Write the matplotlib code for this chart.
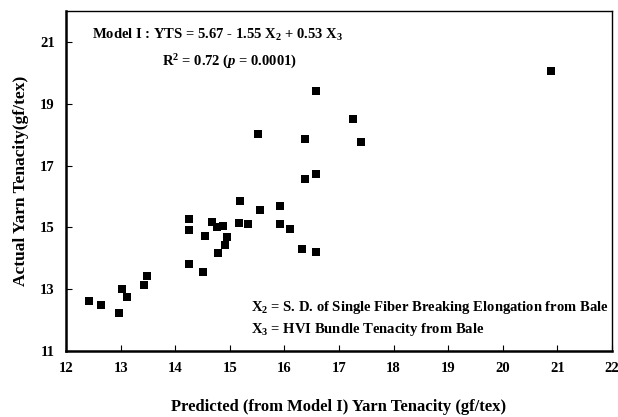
import matplotlib
matplotlib.use('Agg')
import matplotlib.pyplot as plt

# --- data ---
predicted = [20.88, 16.58, 17.25, 17.40, 16.38, 16.38, 16.58, 15.51, 15.19, 15.55,
             15.92, 14.25, 14.26, 14.67, 14.77, 14.88, 15.17, 15.33, 15.92, 16.10,
             14.54, 14.95, 14.92, 14.78, 16.32, 16.58, 14.25, 14.50, 13.48, 13.43,
             13.03, 13.12, 12.43, 12.65, 12.97]
actual = [20.06, 19.41, 18.50, 17.77, 17.85, 16.57, 16.73, 18.01, 15.84, 15.55,
          15.69, 15.28, 14.90, 15.17, 15.01, 15.05, 15.13, 15.11, 15.11, 14.94,
          14.72, 14.70, 14.43, 14.17, 14.29, 14.20, 13.83, 13.56, 13.42, 13.15,
          13.02, 12.74, 12.62, 12.50, 12.24]
x_ticks = [12, 13, 14, 15, 16, 17, 18, 19, 20, 21, 22]
y_ticks = [11, 13, 15, 17, 19, 21]

plt.rcParams['font.family'] = ['Liberation Serif', 'DejaVu Serif']
plt.rcParams['mathtext.fontset'] = 'custom'
plt.rcParams['mathtext.rm'] = 'Liberation Serif:bold'
plt.rcParams['mathtext.it'] = 'Liberation Serif:bold:italic'
plt.rcParams['mathtext.bf'] = 'Liberation Serif:bold'

fig = plt.figure(figsize=(6.18, 4.17), dpi=100)
ax = fig.add_axes([66 / 618, 66 / 417, 546 / 618, 340 / 417])

ax.scatter(predicted, actual, marker='s', s=26, color='black', linewidths=0, zorder=3)

ax.set_xlim(12, 22)
ax.set_ylim(11, 22)
ax.set_xticks(x_ticks)
ax.set_yticks(y_ticks)
ax.tick_params(direction='in', length=4, width=0.8, labelsize=10.5, pad=8)
for lab in ax.get_xticklabels() + ax.get_yticklabels():
    lab.set_fontweight('bold')
for side in ['left', 'bottom']:
    ax.spines[side].set_linewidth(1.8)
for side in ['top', 'right']:
    ax.spines[side].set_linewidth(1.0)

ax.set_xlabel('Predicted (from Model I) Yarn Tenacity (gf/tex)', fontsize=12,
              fontweight='bold', labelpad=17)
ax.set_ylabel('Actual Yarn Tenacity(gf/tex)', fontsize=12.5, fontweight='bold', labelpad=8)

ax.text(0.048, 0.93, 'Model I : YTS = 5.67 - 1.55 X$_2$ + 0.53 X$_3$',
        transform=ax.transAxes, fontsize=10.5, fontweight='bold', va='center')
ax.text(0.176, 0.85, 'R$^2$ = 0.72 ($p$ = 0.0001)',
        transform=ax.transAxes, fontsize=10.5, fontweight='bold', va='center')
ax.text(0.993, 0.128, 'X$_2$ = S. D. of Single Fiber Breaking Elongation from Bale',
        transform=ax.transAxes, fontsize=10.5, fontweight='bold', va='center', ha='right')
ax.text(0.993 - 0.0, 0.062, 'X$_3$ = HVI Bundle Tenacity from Bale',
        transform=ax.transAxes, fontsize=10.5, fontweight='bold', va='center', ha='left')

fig.canvas.draw()
# left-align the second footnote line with the first one
first = ax.texts[2].get_window_extent()
x0 = ax.transAxes.inverted().transform((first.x0, first.y0))[0]
ax.texts[3].set_x(x0)

fig.savefig('out.png', dpi=100)
